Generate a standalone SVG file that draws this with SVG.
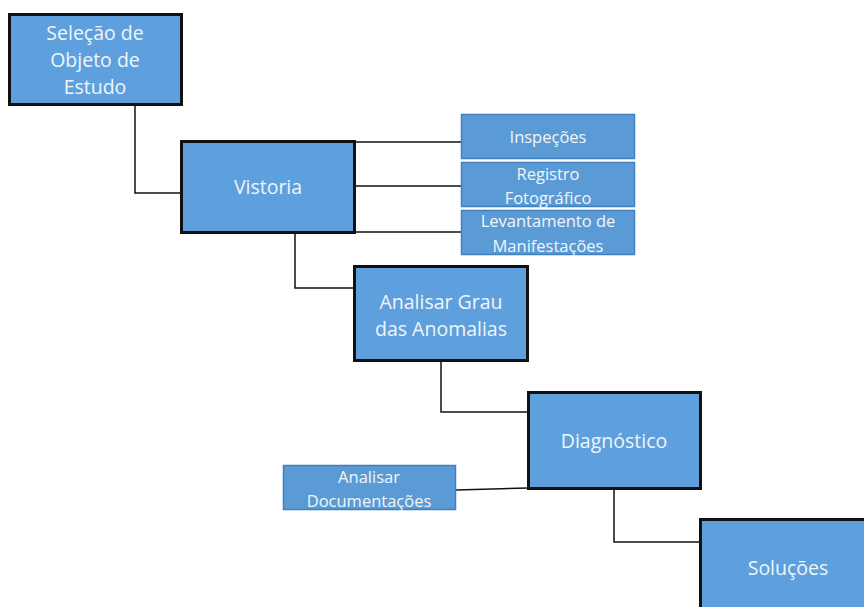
<svg xmlns="http://www.w3.org/2000/svg" width="864" height="607" viewBox="0 0 864 607">
<style>
.main{fill:#5ea0dd;stroke:#111;stroke-width:3}
.sub{fill:#5b9bd5;stroke:#3f7fbf;stroke-width:1.5}
.t{font-family:"Open Sans","Noto Sans",sans-serif;fill:#f0f5fb;text-anchor:middle}
.tm{font-size:19.5px}
.ts{font-size:16.5px}
.c{stroke:#111;stroke-width:1.5;fill:none}
</style>
<rect width="864" height="607" fill="#fff"/>
<g id="connectors">
<polyline class="c" points="135,105 135,193 181,193"/>
<polyline class="c" points="295,233 295,288 354,288"/>
<polyline class="c" points="441,361 441,412 528,412"/>
<polyline class="c" points="614,489 614,542 700,542"/>
<line class="c" x1="355" y1="142" x2="461" y2="142"/>
<line class="c" x1="355" y1="186" x2="461" y2="186"/>
<line class="c" x1="355" y1="232" x2="461" y2="232"/>
<line class="c" x1="456" y1="490" x2="528" y2="488"/>
</g>
<g id="selecao">
<rect class="main" x="9.5" y="14.5" width="172" height="90"/>
<text class="t tm" x="95" y="40">Seleção de</text>
<text class="t tm" x="95" y="67">Objeto de</text>
<text class="t tm" x="95" y="94">Estudo</text>
</g>
<g id="vistoria">
<rect class="main" x="181.5" y="141.5" width="173" height="91"/>
<text class="t tm" x="268" y="194">Vistoria</text>
</g>
<g id="inspecoes">
<rect class="sub" x="461.5" y="114.5" width="173" height="44"/>
<text class="t ts" x="548" y="143">Inspeções</text>
</g>
<g id="registro">
<rect class="sub" x="461.5" y="162.5" width="173" height="44"/>
<text class="t ts" x="548" y="180">Registro</text>
<text class="t ts" x="548" y="204">Fotográfico</text>
</g>
<g id="levantamento">
<rect class="sub" x="461.5" y="210.5" width="173" height="44"/>
<text class="t ts" x="548" y="227">Levantamento de</text>
<text class="t ts" x="548" y="252">Manifestações</text>
</g>
<g id="analisar-grau">
<rect class="main" x="354.5" y="266.5" width="173" height="94"/>
<text class="t tm" x="441" y="309">Analisar Grau</text>
<text class="t tm" x="441" y="336">das Anomalias</text>
</g>
<g id="diagnostico">
<rect class="main" x="528.5" y="392.5" width="172" height="96"/>
<text class="t tm" x="614" y="448">Diagnóstico</text>
</g>
<g id="analisar-doc">
<rect class="sub" x="283.5" y="465.5" width="172" height="44"/>
<text class="t ts" x="369" y="483">Analisar</text>
<text class="t ts" x="369" y="507">Documentações</text>
</g>
<g id="solucoes">
<rect class="main" x="700.5" y="519.5" width="170" height="95"/>
<text class="t tm" x="788" y="575">Soluções</text>
</g>
</svg>
